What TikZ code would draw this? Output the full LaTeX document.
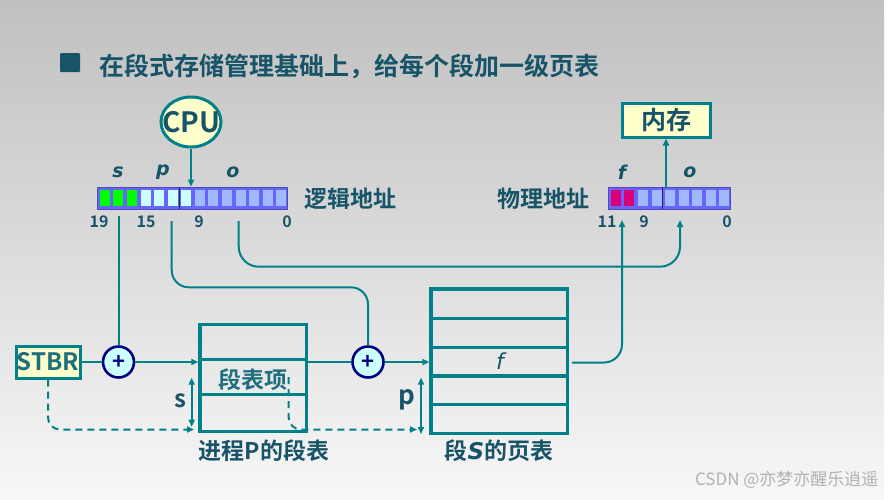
\documentclass[tikz,border=0pt]{standalone}
\usepackage{fontspec}
\setmainfont{Noto Sans CJK SC}[BoldFont={Noto Sans CJK SC Bold}]
\newfontfamily\obliquefont{DejaVu Sans}
\usetikzlibrary{arrows.meta,shapes.geometric}

\definecolor{tealline}{RGB}{0,128,136}
\definecolor{inktext}{RGB}{24,84,104}
\definecolor{tealtext}{RGB}{30,112,126}
\definecolor{paleyellow}{RGB}{255,255,204}
\definecolor{palecyan}{RGB}{204,255,255}
\definecolor{navyring}{RGB}{0,0,128}
\definecolor{barblue}{RGB}{102,102,255}
\definecolor{bitS}{RGB}{0,255,0}
\definecolor{bitP}{RGB}{204,255,255}
\definecolor{bitO}{RGB}{160,185,255}
\definecolor{bitF}{RGB}{220,0,120}
\definecolor{bgtop}{RGB}{192,192,192}
\definecolor{bgmid}{RGB}{214,214,214}
\definecolor{bgbot}{RGB}{247,247,247}

\tikzset{
  link/.style={draw=tealline, line width=2pt},
  yellowbox/.style={draw=tealline, line width=3pt, fill=paleyellow, inner sep=0pt},
  adder/.style={circle, draw=navyring, line width=2.6pt, fill=palecyan, minimum size=31pt,
    inner sep=0pt, text=navyring, font=\bfseries\fontsize{22}{22}\selectfont},
  addrbar/.style={draw=barblue!75!black, line width=0.8pt, fill=barblue, minimum height=22pt, inner sep=0pt},
  tablebox/.style={draw=tealline, line width=3.4pt, inner sep=0pt},
  tabrule/.style={draw=tealline, line width=3.4pt},
  bitlbl/.style={text=inktext, font=\obliquefont\bfseries\itshape\fontsize{19}{19}\selectfont},
  bitnum/.style={text=inktext, font=\bfseries\fontsize{16}{16}\selectfont},
  cjklbl/.style={text=inktext, font=\bfseries\fontsize{23}{23}\selectfont},
  >={Triangle[length=7pt,width=6pt]}
}

\begin{document}
\begin{tikzpicture}[x=1pt,y=-1pt]
\useasboundingbox (0,0) rectangle (896,499);

%Background
\fill[white] (0,0) rectangle (896,499);
\shade[top color=bgtop, middle color=bgmid, bottom color=bgbot] (0,0) rectangle (884,499);

%Title
\fill[inktext, rounded corners=1pt] (60,53) rectangle (80,72);
\node[cjklbl, anchor=west, font=\bfseries\fontsize{25}{25}\selectfont] (title) at (96,66) {在段式存储管理基础上，给每个段加一级页表};

%CPU and memory
\node[ellipse, yellowbox, minimum width=60pt, minimum height=50pt, text=inktext,
  font=\bfseries\fontsize{28}{28}\selectfont] (cpu) at (191,122) {\makebox[0pt]{CPU}};
\node[yellowbox, minimum width=88pt, minimum height=34pt, text=inktext,
  font=\bfseries\fontsize{25}{25}\selectfont] (mem) at (666,120) {内存};

%Logical address
\node[addrbar, minimum width=190pt] (laddr) at (192,198) {};
\foreach \c [count=\i from 0] in {bitS,bitS,bitS,bitP,bitP,bitP,bitP,bitO,bitO,bitO,bitO,bitO,bitO,bitO}
  \fill[\c] (99.8+13.57*\i,190) rectangle ++(10,16);
\draw[barblue!35!black, line width=0.8pt] (179,187) -- (179,209);
\node[bitlbl] (ls) at (118,172) {s};
\node[bitlbl] (lp) at (163,172) {p};
\node[bitlbl] (lo) at (233,172) {o};
\node[bitnum] (n19) at (99,222) {19};
\node[bitnum] (n15) at (146,222) {15};
\node[bitnum] (n9) at (199,222) {9};
\node[bitnum] (n0) at (287,222) {0};
\node[cjklbl, anchor=west] (lname) at (301,199) {逻辑地址};

%Physical address
\node[addrbar, minimum width=122pt] (paddr) at (669,198) {};
\foreach \c [count=\i from 0] in {bitF,bitF,bitO,bitO,bitO,bitO,bitO,bitO,bitO}
  \fill[\c] (610.8+13.57*\i,190) rectangle ++(10,16);
\draw[barblue!35!black, line width=0.8pt] (662.5,187) -- (662.5,209);
\node[bitlbl] (lf) at (622,172) {f};
\node[bitlbl] (lo2) at (690,172) {o};
\node[bitnum] (n11) at (607,222) {11};
\node[bitnum] (n9b) at (644,222) {9};
\node[bitnum] (n0b) at (727,222) {0};
\node[cjklbl, anchor=east] (pname) at (593,199) {物理地址};

%Segment table
\node[tablebox, minimum width=106.7pt, minimum height=107.4pt] (segtab) at (253.3,378) {};
\foreach \y in {359.3,394.3}
  \draw[tabrule] (200,\y) -- (306.7,\y);
\node[text=tealtext, font=\bfseries\fontsize{23}{23}\selectfont] (segitem) at (253,380) {段表项};

%Page table
\node[tablebox, minimum width=136.3pt, minimum height=144.7pt] (pagetab) at (499.2,361.3) {};
\foreach \y in {318.3,347.3,376,404.5}
  \draw[tabrule] (431,\y) -- (567.3,\y);
\node[text=inktext, font=\obliquefont\itshape\fontsize{22}{22}\selectfont] (frow) at (500,361) {f};

%STBR and adders
\node[yellowbox, minimum width=64pt, minimum height=32pt, text=tealtext,
  font=\bfseries\fontsize{24}{24}\selectfont] (stbr) at (48,362) {STBR};
\node[adder] (plusA) at (118.5,362) {+};
\node[adder] (plusB) at (368,362) {+};

%Taps
\coordinate (stap) at (118.5,216);
\coordinate (ptap) at (171.7,221);
\coordinate (otap) at (238.7,221);
\coordinate (fin) at (622,220);
\coordinate (oin) at (680,220);
\coordinate (fout) at (572,362.5);
\coordinate (segtap) at (288.7,377);

%Connectors
\draw[link,->] (cpu) -- (cpu |- laddr.north);
\draw[link,->] (mem |- paddr.north) -- (mem);
\draw[link] (stap) -- (plusA);
\draw[link, rounded corners=17pt] (ptap) |- (368,287.3) -- (plusB);
\draw[link,->, rounded corners=20pt] (otap) |- (680,266.7) -- (oin);
\draw[link] (stbr) -- (plusA);
\draw[link,->] (plusA) -- (plusA -| segtab.west);
\draw[link] (plusB -| segtab.east) -- (plusB);
\draw[link,->] (plusB) -- (plusB -| pagetab.west);
\draw[link,->, rounded corners=18pt] (fout) -| (fin);

%Dashed
\draw[link, dash pattern=on 7pt off 5pt, ->, rounded corners=12pt] (stbr.south) |- (194,429.5);
\draw[link, dash pattern=on 7pt off 5pt, ->, rounded corners=12pt] (segtap) |- (417,429.5);

%Offsets
\draw[link,<->] (191.7,377.7) -- (191.7,426.7);
\node[text=inktext, font=\bfseries\fontsize{24}{24}\selectfont] (slbl) at (180,401) {s};
\draw[link,<->] (421,377.7) -- (421,434);
\node[text=inktext, font=\bfseries\fontsize{26}{26}\selectfont] (plbl) at (407,400) {p};

%Captions
\node[cjklbl] (segcap) at (264,451) {进程P的段表};
\node[cjklbl] (pagecap) at (499,451) {段{\obliquefont\itshape S}的页表};
\node[text=gray!60, font=\fontsize{17}{17}\selectfont, anchor=east] (mark) at (882,480) {CSDN @亦梦亦醒乐逍遥};

\end{tikzpicture}
\end{document}
